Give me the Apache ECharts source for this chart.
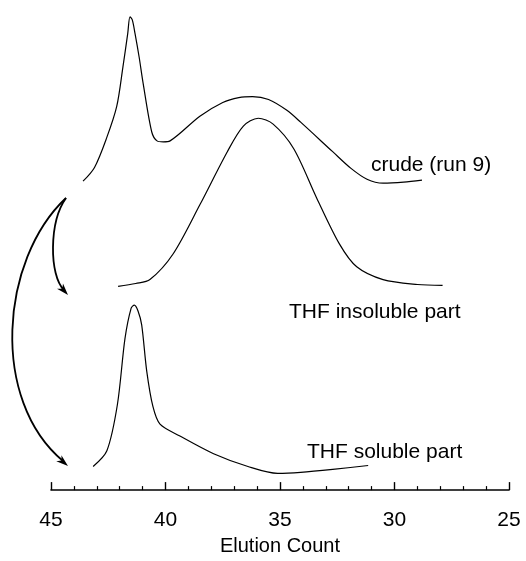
<!DOCTYPE html>
<html>
<head>
<meta charset="utf-8">
<script src="https://cdn.jsdelivr.net/npm/echarts@6/dist/echarts.min.js"></script>
<style>html,body{margin:0;padding:0;background:#fff}#c{width:526px;height:561px}</style>
</head>
<body>
<div id="c"></div>
<script>
// Elution count vs. detector signal (arbitrary units, curves stacked)
const crude = [[43.6,314],[43.1,328],[42.57,358],[42.13,390],[41.86,430],[41.65,464],[41.55,481],[41.45,478],[41.33,464],[41.15,440],[40.98,414],[40.6,364],[40.37,355],[40.1,354],[39.8,355],[38.5,380],[37.5,394],[36.8,399],[36.2,400],[35.5,397],[34.7,386],[34.1,374],[32.7,344],[31.9,327],[31.2,316],[30.5,312],[29.6,313],[28.8,315]];
const insoluble = [[42.07,207],[41.3,210],[40.68,214],[39.67,240],[38.5,290],[37.3,344],[36.6,370],[35.95,378],[35.3,372],[34.4,347],[33.4,297],[32.4,250],[31.65,227],[30.5,214],[29.0,209],[27.9,208]];
const soluble = [[43.16,24],[42.56,40],[42.1,87],[41.77,154],[41.5,185],[41.36,188],[41.2,182],[41.04,168],[40.82,121],[40.55,85],[40.24,67],[39.37,55],[37.9,37],[36.4,24],[35.1,17],[34.1,18],[32.7,21],[31.15,25]];
const seriesNames = ['crude (run 9)','THF insoluble part','THF soluble part'];
const xTicks = [25,30,35,40,45];

const chart = echarts.init(document.getElementById('c'));
const font = 'Liberation Sans, Arial, sans-serif';
function line(name, data){
  return {name, type:'line', data, smooth:0.3, symbol:'none',
    lineStyle:{color:'#000', width:1.2}, silent:true, animation:false};
}
function arrowHead(x,y,dx,dy){
  const L=Math.hypot(dx,dy), ux=dx/L, uy=dy/L, len=12, w=4;
  const bx=x-ux*len, by=y-uy*len;
  const mx=x-ux*len*0.7, my=y-uy*len*0.7;
  return {type:'polygon', shape:{points:[[x,y],[bx-uy*w,by+ux*w],[mx,my],[bx+uy*w,by-ux*w]]}, style:{fill:'#000'}};
}
chart.setOption({
  animation:false,
  backgroundColor:'#fff',
  grid:{left:51,right:17,top:11,bottom:63},
  xAxis:{type:'value', inverse:true, min:25, max:45, interval:5,
    axisLine:{lineStyle:{color:'#000',width:1.6}},
    axisTick:{inside:true,length:8,lineStyle:{color:'#000',width:1.4}},
    minorTick:{show:true,splitNumber:5,length:4,lineStyle:{color:'#000',width:1.2}},
    splitLine:{show:false},
    axisLabel:{color:'#000',fontSize:21,fontFamily:font,margin:20,
      formatter:v=>xTicks.includes(v)?String(v):''},
    name:'Elution Count', nameLocation:'middle', nameGap:41,
    nameTextStyle:{color:'#000',fontSize:20,fontFamily:font}
  },
  yAxis:{type:'value', min:0, max:487, show:false},
  series:[line(seriesNames[0],crude), line(seriesNames[1],insoluble), line(seriesNames[2],soluble)],
  graphic:[
    {type:'text', left:371, top:155, style:{text:seriesNames[0], font:'21px '+font, fill:'#000'}},
    {type:'text', left:289, top:302, style:{text:seriesNames[1], font:'21px '+font, fill:'#000'}},
    {type:'text', left:307, top:442, style:{text:seriesNames[2], font:'21px '+font, fill:'#000'}},
    {type:'bezierCurve', shape:{x1:66,y1:198,cpx1:49,cpy1:222,cpx2:49,cpy2:275,x2:64,y2:290},
      style:{stroke:'#000',lineWidth:1.8,fill:null}},
    arrowHead(68,295,17,19),
    {type:'bezierCurve', shape:{x1:66,y1:198,cpx1:0,cpy1:260,cpx2:-10,cpy2:400,x2:63,y2:461},
      style:{stroke:'#000',lineWidth:1.8,fill:null}},
    arrowHead(68,466,77,65)
  ]
});
</script>
</body>
</html>
